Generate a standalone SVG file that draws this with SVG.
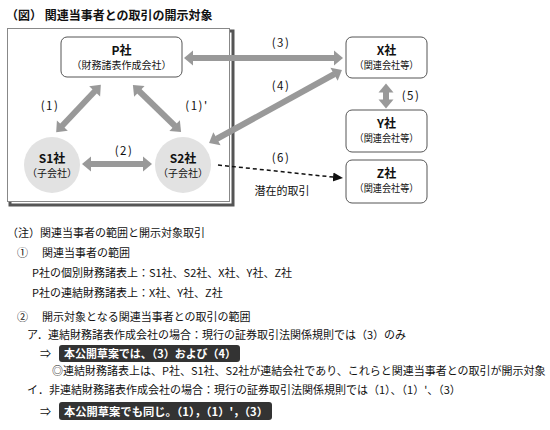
<svg xmlns="http://www.w3.org/2000/svg" width="550" height="430" viewBox="0 0 550 430">
<style>
text{font-family:"Noto Sans CJK JP","Noto Sans",sans-serif;fill:#111;}
.t{font-size:12px;font-weight:bold;}
.nt{font-size:12px;font-weight:bold;text-anchor:middle;}
.ns{font-size:10px;text-anchor:middle;}
.lb{font-size:11px;text-anchor:middle;}
.pl{font-size:11.5px;text-anchor:middle;letter-spacing:1.5px;}
.n{font-size:11px;}
.w{font-size:11px;font-weight:bold;fill:#fff;}
.box{fill:#fff;stroke:#555;stroke-width:1;}
.circ{fill:#e2e2e2;stroke:none;}
.ga{stroke:#999;stroke-width:6;fill:none;marker-start:url(#gh);marker-end:url(#gh);}
.hl{fill:#333;}
</style>
<defs>
<marker id="gh" markerUnits="userSpaceOnUse" markerWidth="12" markerHeight="18" viewBox="-1 -9 12 18" refX="0" refY="0" orient="auto-start-reverse">
<path d="M-0.5,-7.5 L8.5,0 L-0.5,7.5 Z" fill="#999"/>
</marker>
<marker id="bh" markerUnits="userSpaceOnUse" markerWidth="12" markerHeight="12" viewBox="0 -6 12 12" refX="9" refY="0" orient="auto">
<path d="M0,-4.5 L10,0 L0,4.5 Z" fill="#111"/>
</marker>
</defs>
<text class="t" x="6" y="20">（図） 関連当事者との取引の開示対象</text>
<g id="frame">
<path d="M10,202 L10,205 L233,205 L233,31 L230,31" fill="none" stroke="#555" stroke-width="3"/>
<rect x="7.5" y="28.5" width="222" height="173" fill="#fff" stroke="#888" stroke-width="1"/>
</g>
<g id="connectors">
<line class="ga" x1="192.5" y1="58" x2="334.5" y2="58"/>
<line class="ga" x1="90.5" y1="164" x2="143.5" y2="164"/>
<line class="ga" x1="386" y1="92" x2="386" y2="100"/>
<line class="ga" x1="95" y1="91" x2="62" y2="126"/>
<line class="ga" x1="139" y1="91" x2="175" y2="126"/>
<line class="ga" x1="216.5" y1="139" x2="334.5" y2="74"/>
<line x1="218" y1="165" x2="342" y2="178" stroke="#111" stroke-width="1.5" stroke-dasharray="4,3" marker-end="url(#bh)"/>
<text class="pl" x="50" y="110">(1)</text>
<text class="pl" x="197" y="110">(1)'</text>
<text class="pl" x="124" y="155">(2)</text>
<text class="pl" x="281" y="47">(3)</text>
<text class="pl" x="281" y="90">(4)</text>
<text class="pl" x="411" y="100">(5)</text>
<text class="pl" x="281" y="162">(6)</text>
<text class="lb" x="282" y="195">潜在的取引</text>
</g>
<g id="P">
<rect class="box" x="61" y="37" width="121" height="40" rx="6"/>
<text class="nt" x="121.5" y="55">P社</text>
<text class="ns" x="121.5" y="69">（財務諸表作成会社）</text>
</g>
<g id="S1">
<circle class="circ" cx="52" cy="165" r="28"/>
<text class="nt" x="52" y="163">S1社</text>
<text class="ns" x="52" y="177">（子会社）</text>
</g>
<g id="S2">
<circle class="circ" cx="183" cy="165" r="28"/>
<text class="nt" x="183" y="163">S2社</text>
<text class="ns" x="183" y="177">（子会社）</text>
</g>
<g id="X">
<rect class="box" x="346" y="37" width="81" height="41" rx="6"/>
<text class="nt" x="386.5" y="55">X社</text>
<text class="ns" x="386.5" y="69" textLength="64" lengthAdjust="spacingAndGlyphs">（関連会社等）</text>
</g>
<g id="Y">
<rect class="box" x="346" y="110" width="81" height="42" rx="6"/>
<text class="nt" x="386.5" y="128">Y社</text>
<text class="ns" x="386.5" y="142" textLength="64" lengthAdjust="spacingAndGlyphs">（関連会社等）</text>
</g>
<g id="Z">
<rect class="box" x="346" y="160" width="81" height="43" rx="6"/>
<text class="nt" x="386.5" y="178">Z社</text>
<text class="ns" x="386.5" y="192" textLength="64" lengthAdjust="spacingAndGlyphs">（関連会社等）</text>
</g>
<g id="notes">
<text class="n" x="7" y="237">（注）関連当事者の範囲と開示対象取引</text>
<text class="n" x="17" y="257">①</text>
<text class="n" x="42" y="257">関連当事者の範囲</text>
<text class="n" x="32" y="277">P社の個別財務諸表上：S1社、S2社、X社、Y社、Z社</text>
<text class="n" x="32" y="297">P社の連結財務諸表上：X社、Y社、Z社</text>
<text class="n" x="17" y="321">②</text>
<text class="n" x="42" y="321">開示対象となる関連当事者との取引の範囲</text>
<text class="n" x="27" y="339">ア．連結財務諸表作成会社の場合：現行の証券取引法関係規則では（3）のみ</text>
<text class="n" x="40" y="358">⇒</text>
<rect class="hl" x="59" y="345" width="181" height="17" rx="3"/>
<text class="w" x="64" y="358" textLength="172" lengthAdjust="spacingAndGlyphs">本公開草案では、（3）および（4）</text>
<text class="n" x="52" y="375">◎連結財務諸表上は、P社、S1社、S2社が連結会社であり、これらと関連当事者との取引が開示対象</text>
<text class="n" x="27" y="394">イ．非連結財務諸表作成会社の場合：現行の証券取引法関係規則では（1）、（1）'、（3）</text>
<text class="n" x="40" y="416">⇒</text>
<rect class="hl" x="59" y="402" width="213" height="18" rx="3"/>
<text class="w" x="64" y="415.5" textLength="204" lengthAdjust="spacingAndGlyphs">本公開草案でも同じ。（1），（1）'，（3）</text>
</g>
</svg>
